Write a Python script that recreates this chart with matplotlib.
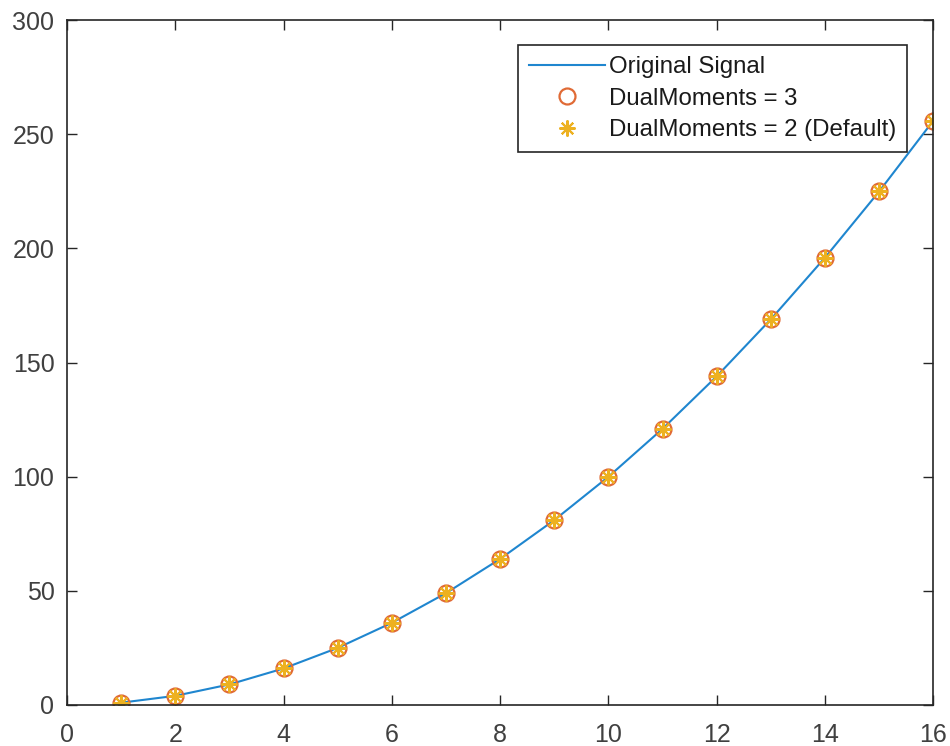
import matplotlib
matplotlib.use("Agg")
import matplotlib.pyplot as plt

plt.rcParams['font.family'] = ['Liberation Sans', 'DejaVu Sans']

x_vals = [1, 2, 3, 4, 5, 6, 7, 8, 9, 10, 11, 12, 13, 14, 15, 16]
original = [1, 4, 9, 16, 25, 36, 49, 64, 81, 100, 121, 144, 169, 196, 225, 256]
dual3 = [1, 4, 9, 16, 25, 36, 49, 64, 81, 100, 121, 144, 169, 196, 225, 256]
dual2 = [1, 4, 9, 16, 25, 36, 49, 64, 81, 100, 121, 144, 169, 196, 225, 256]
xticks = [0, 2, 4, 6, 8, 10, 12, 14, 16]
yticks = [0, 50, 100, 150, 200, 250, 300]

fig = plt.figure(figsize=(9.5, 7.46), dpi=100)
ax = fig.add_axes([0.0705, 0.055, 0.912, 0.918])

ax.plot(x_vals, original, color='#1f86cf', lw=1.5, label='Original Signal')
ax.plot(x_vals, dual3, linestyle='none', marker='o', markersize=11.5, markerfacecolor='none',
        markeredgecolor='#E06a35', markeredgewidth=1.6, label='DualMoments = 3')
ax.plot(x_vals, dual2, linestyle='none', marker=(8, 2, 0), markersize=11.5,
        color='#EDB120', markeredgewidth=1.5, label='DualMoments = 2 (Default)')

ax.set_xlim(0, 16)
ax.set_ylim(0, 300)
ax.set_xticks(xticks)
ax.set_yticks(yticks)
ax.tick_params(direction='in', top=True, right=True, labelsize=18, colors='#262626',
               labelcolor='#404040', length=7, width=1.0)
ax.tick_params(axis='x', pad=13)
ax.tick_params(axis='y', pad=9)
for s in ax.spines.values():
    s.set_color('#262626')
    s.set_linewidth(1.2)

leg = ax.legend(loc='upper right', bbox_to_anchor=(0.970, 0.9635), fontsize=17.3, frameon=True,
                fancybox=False, edgecolor='#262626', framealpha=1, borderpad=0.45,
                handlelength=3.15, handletextpad=0.2, labelspacing=0.4, borderaxespad=0)
leg.get_frame().set_linewidth(1.2)
for t in leg.get_texts():
    t.set_color('#1a1a1a')

fig.savefig('out.png', dpi=100)
